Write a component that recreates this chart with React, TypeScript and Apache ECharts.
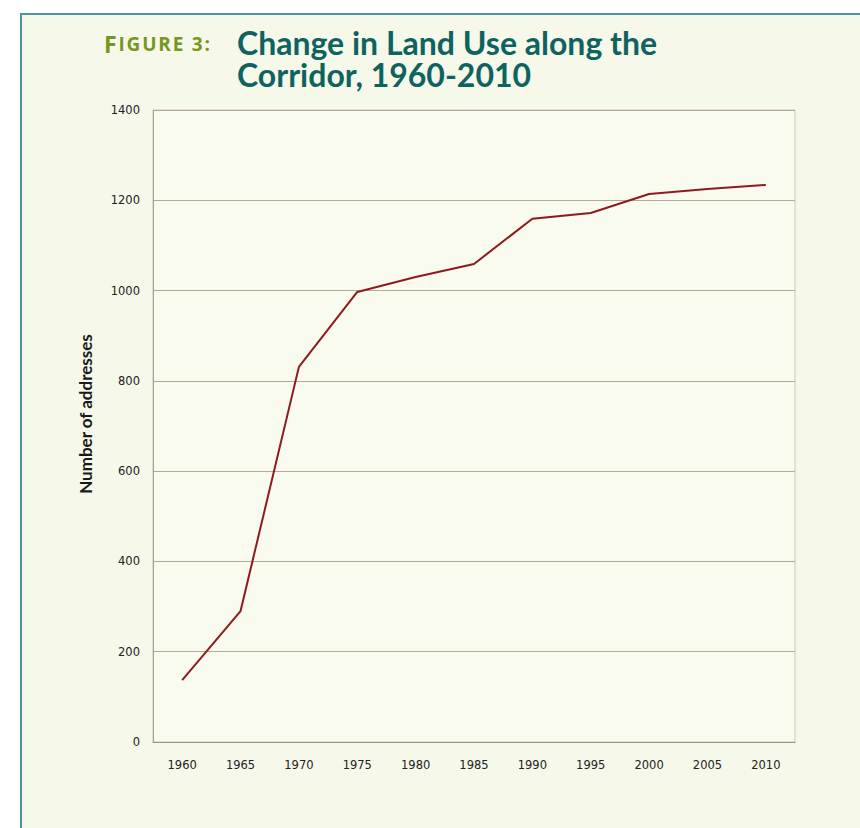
import React, { useEffect, useRef } from "react";
import * as echarts from "echarts";

const years = ["1960", "1965", "1970", "1975", "1980", "1985", "1990", "1995", "2000", "2005", "2010"];
const addresses = [137, 290, 831, 997, 1030, 1059, 1159, 1172, 1214, 1225, 1234];
const yTicks = [0, 200, 400, 600, 800, 1000, 1200, 1400];

export default function App() {
  const ref = useRef<HTMLDivElement>(null);
  useEffect(() => {
    document.body.style.margin = "0";
    const chart = echarts.init(ref.current!, undefined, { renderer: "svg" });
    const small = "IGURE 3:".split("").map((c) => (c === " " ? "{s| }" : `{b|${c}}`)).join("");
    chart.setOption({
      animation: false,
      backgroundColor: "#ffffff",
      graphic: [
        {
          type: "rect",
          z: -10,
          silent: true,
          shape: { x: 21, y: 14, width: 860, height: 830 },
          style: { fill: "#f6f8e9", stroke: "#4f93a0", lineWidth: 2 },
        },
        {
          type: "text",
          x: 104,
          y: 55,
          style: {
            text: "{a|F}" + small,
            verticalAlign: "bottom",
            rich: {
              a: { fontFamily: "Open Sans", fontWeight: "bold", fontSize: 23, fill: "#76961f", padding: [0, 1, 0, 0] },
              b: { fontFamily: "Open Sans", fontWeight: "bold", fontSize: 19, fill: "#76961f", padding: [0, 0.9, 0, 0.9] },
              s: { fontFamily: "Open Sans", fontWeight: "bold", fontSize: 19, fill: "#76961f", padding: [0, 0.9, 0, 0.9] },
            },
          },
        },
        {
          type: "text",
          x: 237,
          y: 27,
          style: {
            text: "Change in Land Use along the",
            fontFamily: "Lato",
            fontWeight: "bold",
            fontSize: 32,
            lineHeight: 30,
            fill: "#0e6360",
          },
        },
        {
          type: "text",
          x: 237,
          y: 59,
          style: {
            text: "Corridor, 1960-2010",
            fontFamily: "Lato",
            fontWeight: "bold",
            fontSize: 32,
            lineHeight: 30,
            fill: "#0e6360",
          },
        },
        {
          type: "text",
          x: 85,
          y: 414,
          rotation: Math.PI / 2,
          style: {
            text: "Number of addresses",
            fontFamily: "Lato",
            fontWeight: "bold",
            fontSize: 17,
            fill: "#1a1a1a",
            align: "center",
            verticalAlign: "middle",
          },
        },
      ],
      grid: {
        left: 153,
        top: 110,
        right: 65,
        bottom: 86,
        show: true,
        backgroundColor: "#f9fbef",
        borderColor: "#cdc6b8",
        borderWidth: 1,
      },
      xAxis: {
        type: "category",
        data: years,
        boundaryGap: true,
        axisLine: { show: true, lineStyle: { color: "#9d9187", width: 1 } },
        axisTick: { show: false },
        axisLabel: {
          color: "#222222",
          fontFamily: "DejaVu Sans",
          fontSize: 11.5,
          margin: 17,
        },
      },
      yAxis: {
        type: "value",
        min: yTicks[0],
        max: yTicks[yTicks.length - 1],
        interval: 200,
        axisLine: { show: true, lineStyle: { color: "#a89e94", width: 1 } },
        axisTick: { show: false },
        splitLine: { show: true, lineStyle: { color: "#b3a899", width: 1 } },
        axisLabel: {
          color: "#222222",
          fontFamily: "DejaVu Sans",
          fontSize: 11.5,
          margin: 13,
          formatter: (v: number) => String(v),
        },
      },
      series: [
        {
          type: "line",
          data: addresses,
          symbol: "none",
          lineStyle: { color: "#8e1a1e", width: 2 },
        },
      ],
    });
    return () => chart.dispose();
  }, []);
  return <div ref={ref} style={{ width: 860, height: 828 }} />;
}
